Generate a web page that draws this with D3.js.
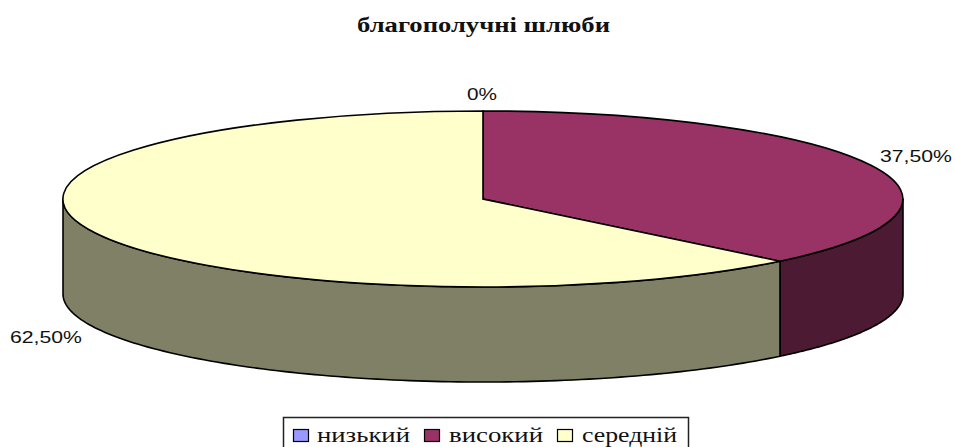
<!DOCTYPE html>
<html>

<head>
    <meta charset="UTF-8">
    <title>благополучні шлюби</title>
    <script src="https://d3js.org/d3.v7.min.js"></script>
    <style>
        body { margin: 0; background: #fff; }
        svg { display: block; }
    </style>
</head>

<body>
    <svg id="chart" width="955" height="447"></svg>
    <script>
        // data
        var categories = ["низький", "високий", "середній"];
        var values = [0, 37.5, 62.5];
        var valueLabels = ["0%", "37,50%", "62,50%"];
        var topColors = ["#9999ff", "#993366", "#ffffcc"];
        var sideColors = ["#4c4c80", "#4d1a33", "#808066"];
        var title = "благополучні шлюби";

        var svg = d3.select("#chart");

        // pie geometry
        var cx = 483, cy = 199, rx = 420, ry = 88, depth = 95;

        var slices = d3.pie().sort(null).value(function(d) { return d; })(values);

        var sx = d3.scaleLinear().domain([-1, 1]).range([cx - rx, cx + rx]);
        var sy = d3.scaleLinear().domain([-1, 1]).range([cy - ry, cy + ry]);

        // side wall, only the front half (90deg to 270deg) can be seen
        var wall = d3.area()
            .x(function(a) { return sx(Math.sin(a)); })
            .y0(function(a) { return sy(-Math.cos(a)); })
            .y1(function(a) { return sy(-Math.cos(a)) + depth; });

        slices.forEach(function(s, i) {
            var a0 = Math.max(s.startAngle, Math.PI / 2);
            var a1 = Math.min(s.endAngle, Math.PI * 3 / 2);
            if (a1 <= a0) return;
            var n = 120;
            var angles = d3.range(n + 1).map(function(k) { return a0 + (a1 - a0) * k / n; });
            svg.append("path")
                .attr("d", wall(angles))
                .attr("fill", sideColors[i])
                .attr("stroke", "#000")
                .attr("stroke-width", 1.6)
                .attr("stroke-linejoin", "round");
        });

        // top face, unit arc squeezed into the ellipse
        var arc = d3.arc().innerRadius(0).outerRadius(1);

        svg.append("g")
            .attr("transform", "translate(" + cx + "," + cy + ") scale(" + rx + "," + ry + ")")
            .selectAll("path")
            .data(slices)
            .enter()
            .append("path")
            .attr("d", arc)
            .attr("fill", function(d, i) { return topColors[i]; })
            .attr("stroke", "#000")
            .attr("stroke-width", 1.6)
            .attr("vector-effect", "non-scaling-stroke");

        // title, the reference text is stretched sideways
        svg.append("text")
            .attr("x", 357)
            .attr("y", 32)
            .attr("textLength", 253)
            .attr("lengthAdjust", "spacingAndGlyphs")
            .attr("font-family", "'Liberation Serif', serif")
            .attr("font-weight", "bold")
            .attr("font-size", 20)
            .attr("fill", "#111")
            .text(title);

        // value labels
        var labelX = [467, 880, 10];
        var labelY = [100, 162, 343];
        var labelW = [30, 72, 72];
        valueLabels.forEach(function(t, i) {
            svg.append("text")
                .attr("x", labelX[i])
                .attr("y", labelY[i])
                .attr("textLength", labelW[i])
                .attr("lengthAdjust", "spacingAndGlyphs")
                .attr("font-family", "'Liberation Sans', sans-serif")
                .attr("font-size", 17)
                .attr("fill", "#111")
                .text(t);
        });

        // legend, bottom edge runs off the picture
        svg.append("rect")
            .attr("x", 283.5)
            .attr("y", 417.5)
            .attr("width", 405)
            .attr("height", 40)
            .attr("fill", "#fff")
            .attr("stroke", "#222")
            .attr("stroke-width", 1.5);

        var swatchX = [293, 424, 557];
        var textX = [317, 449, 582];
        var textW = [93, 94, 95];
        categories.forEach(function(c, i) {
            svg.append("rect")
                .attr("x", swatchX[i] + 0.5)
                .attr("y", 429.5)
                .attr("width", 15)
                .attr("height", 12)
                .attr("fill", topColors[i])
                .attr("stroke", "#000")
                .attr("stroke-width", 1.2);
            svg.append("text")
                .attr("x", textX[i])
                .attr("y", 442)
                .attr("textLength", textW[i])
                .attr("lengthAdjust", "spacingAndGlyphs")
                .attr("font-family", "'Liberation Serif', serif")
                .attr("font-size", 21)
                .attr("fill", "#111")
                .text(c);
        });
    </script>
</body>

</html>
